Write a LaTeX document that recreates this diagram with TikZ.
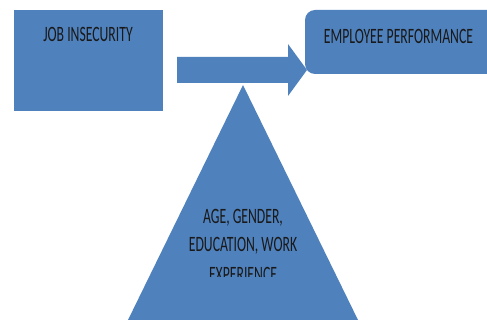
\documentclass[tikz,border=0pt]{standalone}
\usepackage{fontspec}
\setmainfont{Carlito}
\usepackage{xcolor}
\definecolor{boxblue}{HTML}{4F81BD}
\usepackage{tikz}
\usetikzlibrary{positioning}

\tikzset{
  caps/.style={font=\fontsize{13.7}{16}\selectfont, text=black!90, inner sep=0pt, anchor=base},
}
\newcommand{\tallcaps}[1]{\scalebox{1}[1.6]{#1}}

\begin{document}
\begin{tikzpicture}[x=1pt, y=-1pt]
  \useasboundingbox (0,0) rectangle (487,320);
  \begin{scope}
    \clip (0,0) rectangle (487,320);
    % independent variable
    \fill[boxblue] (14,10) rectangle (163,111);
    % dependent variable (runs off the right edge)
    \fill[boxblue, rounded corners=10pt] (305,10) rectangle (500,74);
    % block arrow between them
    \fill[boxblue] (177,57) -- (288,57) -- (288,44) -- (307,70)
      -- (288,96) -- (288,83) -- (177,83) -- cycle;
    % moderators
    \fill[boxblue] (243,85) -- (359,322) -- (127,322) -- cycle;
  \end{scope}

  % Etiketler
  \node[caps] (jobtext)  at (88,42)    {\tallcaps{JOB INSECURITY}};
  \node[caps] (perftext) at (398.5,44) {\tallcaps{EMPLOYEE PERFORMANCE}};
  \node[caps] (modline1) at (243,224)  {\tallcaps{AGE, GENDER,}};
  \node[caps] (modline2) at (243,252)  {\tallcaps{EDUCATION, WORK}};
  \begin{scope}
    \clip (0,0) rectangle (487,277);
    \node[caps] (modline3) at (243,281) {\tallcaps{EXPERIENCE}};
  \end{scope}
\end{tikzpicture}
\end{document}
